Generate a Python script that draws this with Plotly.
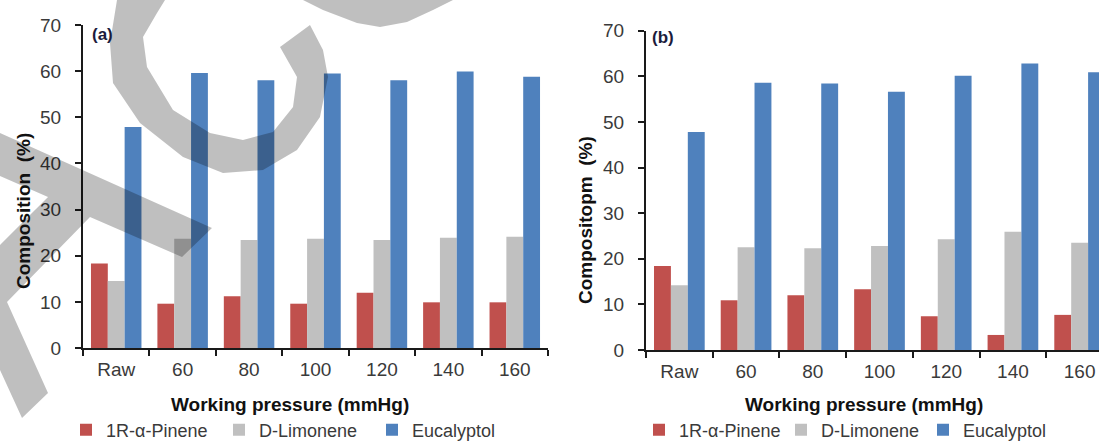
import plotly.graph_objects as go

# ---------------- data ----------------
categories = ["Raw", "60", "80", "100", "120", "140", "160"]
series_names = ["1R-\u03b1-Pinene", "D-Limonene", "Eucalyptol"]

a_pinene = [18.3, 9.6, 11.2, 9.6, 12.0, 9.9, 9.9]
a_limonene = [14.5, 23.7, 23.4, 23.7, 23.4, 23.9, 24.1]
a_eucalyptol = [47.9, 59.6, 58.0, 59.5, 58.0, 59.9, 58.8]

b_pinene = [18.4, 10.9, 12.0, 13.3, 7.4, 3.3, 7.7]
b_limonene = [14.2, 22.5, 22.3, 22.8, 24.3, 25.9, 23.5]
b_eucalyptol = [47.8, 58.6, 58.4, 56.6, 60.1, 62.8, 60.9]

y_ticks = [0, 10, 20, 30, 40, 50, 60, 70]

# ---------------- style ----------------
W, H = 1099, 441
colors = ["#C0504D", "#C0C0C0", "#4F81BD"]
FONT = "Liberation Sans, Arial, sans-serif"
AX = "#1a1a1a"
TXT = "#3a3a3a"


def fx(px):
    return px / W


def fy(py):
    return 1 - py / H


fig = go.Figure()
for vals, name, col in zip([a_pinene, a_limonene, a_eucalyptol], series_names, colors):
    fig.add_trace(go.Bar(x=categories, y=vals, name=name, marker=dict(color=col, line=dict(width=0)),
                         xaxis="x", yaxis="y", legend="legend"))
for vals, name, col in zip([b_pinene, b_limonene, b_eucalyptol], series_names, colors):
    fig.add_trace(go.Bar(x=categories, y=vals, name=name, marker=dict(color=col, line=dict(width=0)),
                         xaxis="x2", yaxis="y2", legend="legend2"))

xcommon = dict(type="category", showline=True, linecolor=AX, linewidth=2, ticks="outside",
               tickson="boundaries", ticklen=6, tickwidth=2, tickcolor=AX, showgrid=False,
               zeroline=False, automargin=False,
               tickfont=dict(family=FONT, size=19, color=TXT), ticklabelstandoff=3)
ycommon = dict(range=[0, 70], tickvals=y_ticks, showline=True, linecolor=AX, linewidth=2,
               ticks="outside", ticklen=6, tickwidth=2, tickcolor=AX, showgrid=False, zeroline=False,
               automargin=False, tickfont=dict(family=FONT, size=19, color=TXT), ticklabelstandoff=10)

legcommon = dict(orientation="h", yanchor="middle", y=fy(430), xanchor="left",
                 font=dict(family=FONT, size=18, color=TXT), bgcolor="rgba(0,0,0,0)",
                 itemwidth=30, entrywidthmode="pixels", traceorder="normal",
                 itemclick=False, itemdoubleclick=False)

fig.update_layout(
    width=W, height=H,
    margin=dict(l=0, r=0, t=0, b=0, autoexpand=False),
    paper_bgcolor="white", plot_bgcolor="white",
    barmode="group", bargap=0.24, bargroupgap=0,
    xaxis=dict(domain=[fx(83), fx(548)], anchor="y", range=[-0.5, 6.5], **xcommon),
    yaxis=dict(domain=[fy(348), fy(25)], anchor="x", **ycommon),
    xaxis2=dict(domain=[fx(646), 1.0], anchor="y2", range=[-0.5, 6.5 - (1113 - 1099) / 66.7], **xcommon),
    yaxis2=dict(domain=[fy(350), fy(30.7)], anchor="x2", **ycommon),
    legend=dict(x=fx(107 - 41), entrywidth=108, **legcommon),
    legend2=dict(x=fx(680 - 41), entrywidth=97, **legcommon),
    showlegend=True,
)

ann = []
title_font = dict(family=FONT, size=19, color="#111111")
ann.append(dict(text="<b>Working pressure (mmHg)</b>", x=fx(290), y=fy(404), xref="paper", yref="paper",
                showarrow=False, font=title_font, xanchor="center", yanchor="middle"))
ann.append(dict(text="<b>Working pressure (mmHg)</b>", x=fx(864), y=fy(404), xref="paper", yref="paper",
                showarrow=False, font=title_font, xanchor="center", yanchor="middle"))
ann.append(dict(text="<b>Composition  (%)</b>", x=fx(23), y=fy(211), xref="paper", yref="paper",
                showarrow=False, font=title_font, textangle=-90, xanchor="center", yanchor="middle"))
ann.append(dict(text="<b>Compositopm  (%)</b>", x=fx(585), y=fy(220), xref="paper", yref="paper",
                showarrow=False, font=title_font, textangle=-90, xanchor="center", yanchor="middle"))
ann.append(dict(text="<b>(a)</b>", x=fx(102), y=fy(35), xref="paper", yref="paper",
                showarrow=False, font=dict(family=FONT, size=17, color="#1c1c3c"),
                xanchor="center", yanchor="middle"))
ann.append(dict(text="<b>(b)</b>", x=fx(663), y=fy(37), xref="paper", yref="paper",
                showarrow=False, font=dict(family=FONT, size=17, color="#1c1c3c"),
                xanchor="center", yanchor="middle"))
fig.update_layout(annotations=ann)

# ---------------- watermark overlay (pixel outlines of the grey stamp) ----------------
wm_k = [(0, 133), (212, 228), (182, 257), (90, 217), (7, 302), (48, 393), (22, 418),
        (0, 370), (0, 245), (48, 197), (0, 176)]
wm_c = [(117, 0), (110, 43), (113, 83), (140, 123), (183, 157), (223, 173), (263, 170),
        (297, 150), (320, 117), (328, 77), (323, 50), (310, 25), (280, 47), (297, 77),
        (293, 107), (273, 132), (243, 140), (210, 133), (173, 110), (147, 67), (143, 37),
        (157, 13), (165, 0)]
wm_top = [(303, 0), (323, 10), (357, 23), (380, 27), (407, 22), (433, 10), (453, 0)]


def poly_path(pts):
    return "M " + " L ".join(f"{fx(x):.5f},{fy(y):.5f}" for x, y in pts) + " Z"


for pts in (wm_k, wm_c, wm_top):
    fig.add_shape(type="path", path=poly_path(pts), xref="paper", yref="paper",
                  fillcolor="rgba(0,0,0,0.25)", line=dict(width=0), layer="above")

fig.write_html("out.html", config={"displayModeBar": False},
               post_script="document.body.style.margin='0px';document.body.style.overflow='hidden';")
